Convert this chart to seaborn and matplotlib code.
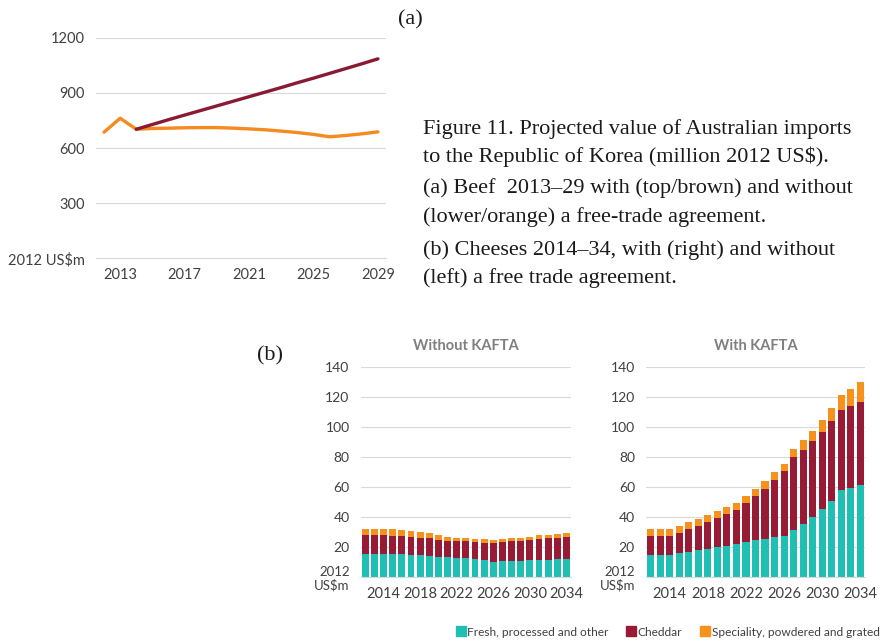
import numpy as np
import pandas as pd
import matplotlib
matplotlib.use("Agg")
import matplotlib.pyplot as plt
import seaborn as sns

# beef (a): million 2012 US$
beef_years = list(range(2012, 2030))
beef_without = [686, 762, 702, 706, 708, 710, 711, 711, 708, 704, 699, 692,
                684, 674, 661, 668, 677, 688]
beef_with_years = list(range(2014, 2030))
beef_with = [702, 728, 754, 779, 804, 829, 854, 879, 904, 929, 955, 980,
             1006, 1032, 1058, 1085]

# cheeses (b): cumulative tops
cheese_years = list(range(2012, 2035))
no_teal = [15.6, 15.6, 15.6, 15.3, 15.3, 15.1, 14.7, 14.4, 13.8, 13.3, 13.1, 12.7,
           12.0, 11.6, 10.4, 10.7, 11.1, 11.1, 11.3, 11.6, 11.8, 12.0, 12.4]
no_ched = [27.8, 27.8, 27.8, 27.3, 27.3, 26.9, 26.2, 26.0, 25.1, 24.4, 24.2, 23.8,
           23.3, 23.1, 22.7, 23.3, 23.8, 24.2, 24.9, 25.3, 26.0, 26.4, 27.1]
no_total = [32.2, 32.2, 32.2, 31.8, 31.3, 31.1, 30.0, 29.3, 28.2, 27.1, 26.4, 26.0,
            25.6, 25.3, 24.7, 25.3, 25.8, 26.4, 27.1, 27.8, 28.2, 28.7, 29.6]
fta_teal = [14.8, 14.8, 14.8, 16.0, 17.1, 18.2, 19.1, 20.0, 20.9, 22.0, 23.5, 24.6,
            25.6, 26.6, 27.6, 31.2, 35.6, 40.0, 45.3, 50.9, 58.0, 59.3, 61.1]
fta_ched = [27.3, 27.3, 27.3, 29.5, 31.8, 34.2, 36.9, 39.5, 42.2, 44.6, 49.1, 53.8,
            59.0, 64.8, 70.4, 79.8, 84.9, 90.5, 96.8, 103.8, 111.5, 114.0, 116.8]
fta_total = [31.8, 31.8, 31.8, 34.0, 36.6, 38.9, 41.5, 43.9, 46.7, 49.5, 54.2, 58.9,
             64.2, 69.8, 75.4, 85.2, 91.0, 97.4, 104.5, 112.3, 121.2, 125.0, 129.5]

series_names = ["Fresh, processed and other", "Cheddar", "Speciality, powdered and grated"]

caption = [
    "Figure 11. Projected value of Australian imports",
    "to the Republic of Korea (million 2012 US$).",
    "(a) Beef  2013\u201329 with (top/brown) and without",
    "(lower/orange) a free-trade agreement.",
    "(b) Cheeses 2014\u201334, with (right) and without",
    "(left) a free trade agreement.",
]

TEAL = "#1FBFB3"
MAROON = "#981B35"
ORANGE = "#F7911E"
BROWN = "#8A1A33"
LINE_OR = "#F58A1F"
GRID = "#D9D9D9"
TXT = "#404040"

sns.set_style("white")
plt.rcParams["font.family"] = ["Lato", "DejaVu Sans"]

W, H = 880, 644
fig = plt.figure(figsize=(W / 100, H / 100), dpi=100)


def px_axes(x0, x1, ytop, ybot):
    return fig.add_axes([x0 / W, 1 - ybot / H, (x1 - x0) / W, (ybot - ytop) / H])


def style_axis(ax):
    for s in ["top", "right", "left"]:
        ax.spines[s].set_visible(False)
    ax.spines["bottom"].set_color(GRID)
    ax.spines["bottom"].set_linewidth(0.8)
    ax.yaxis.grid(True, color=GRID, linewidth=0.8)
    ax.set_axisbelow(True)
    ax.tick_params(axis="y", length=0, labelsize=10.5, labelcolor=TXT, pad=8)
    ax.tick_params(axis="x", which="major", length=0, labelsize=10.5,
                   labelcolor=TXT, pad=7)
    ax.tick_params(axis="x", which="minor", length=4, color=GRID, width=0.8)
    ax.set_xlabel("")
    ax.set_ylabel("")


# ---- (a) beef line chart ----
ax1 = px_axes(96, 386, 37.7, 258.3)
df_no = pd.DataFrame({"year": beef_years, "value": beef_without})
df_fta = pd.DataFrame({"year": beef_with_years, "value": beef_with})
sns.lineplot(data=df_no, x="year", y="value", color=LINE_OR, linewidth=2.4, ax=ax1)
sns.lineplot(data=df_fta, x="year", y="value", color=BROWN, linewidth=2.4, ax=ax1)
ax1.set_xlim(2011.5, 2029.5)
ax1.set_ylim(0, 1200)
ax1.set_yticks([0, 300, 600, 900, 1200])
ax1.set_yticklabels(["2012 US$m", "300", "600", "900", "1200"])
ax1.set_xticks([2013, 2017, 2021, 2025, 2029])
ax1.set_xticklabels(["2013", "2017", "2021", "2025", "2029"])
ax1.set_xticks(np.arange(2011.5, 2030, 1), minor=True)
style_axis(ax1)
ax1.yaxis.get_gridlines()[0].set_visible(False)

# ---- (b) cheese stacked bars ----
def cheese_panel(ax, teal, ched, total, title):
    d = pd.DataFrame({"year": [str(y) for y in cheese_years],
                      "teal": teal, "ched": ched, "total": total})
    kw = dict(x="year", linewidth=0, width=0.74, ax=ax, saturation=1)
    sns.barplot(data=d, y="total", color=ORANGE, **kw)
    sns.barplot(data=d, y="ched", color=MAROON, **kw)
    sns.barplot(data=d, y="teal", color=TEAL, **kw)
    ax.set_xlim(-0.5, len(cheese_years) - 0.5)
    ax.set_ylim(0, 140)
    ax.set_yticks(range(0, 141, 20))
    ax.set_yticklabels(["2012\nUS$m"] + [str(v) for v in range(20, 141, 20)])
    idx = [i for i, y in enumerate(cheese_years) if (y - 2014) % 4 == 0]
    ax.set_xticks(idx)
    ax.set_xticklabels([str(cheese_years[i]) for i in idx])
    ax.set_xticks(np.arange(-0.5, len(cheese_years), 1), minor=True)
    style_axis(ax)
    ax.tick_params(axis="y", labelsize=10)
    ax.yaxis.get_gridlines()[0].set_visible(False)
    lbl = ax.get_yticklabels()[0]
    lbl.set_linespacing(1.1)
    lbl.set_fontsize(9.5)
    ax.set_title(title, fontsize=10.5, fontweight="bold", color="#7F7F7F", pad=12)


ax2 = px_axes(360.7, 571, 366.7, 577.3)
cheese_panel(ax2, no_teal, no_ched, no_total, "Without KAFTA")
ax3 = px_axes(646, 865, 366.7, 577.3)
cheese_panel(ax3, fta_teal, fta_ched, fta_total, "With KAFTA")

# legend
handles = [plt.Line2D([], [], marker="s", linestyle="", markersize=7, color=c)
           for c in [TEAL, MAROON, ORANGE]]
fig.legend(handles, series_names, loc="center", bbox_to_anchor=(667 / W, 1 - 632 / H),
           ncol=3, frameon=False, fontsize=8.6, handletextpad=0.05,
           handlelength=1.0, columnspacing=1.4, labelcolor=TXT)

# caption and panel labels
serif = ["Liberation Serif", "DejaVu Serif"]
cap_y = [129, 157, 188, 217, 250, 278]
for line, y in zip(caption, cap_y):
    fig.text(423 / W, 1 - y / H, line, family=serif, fontsize=16, color="#1a1a1a",
             ha="left", va="center")
fig.text(398 / W, 1 - 20 / H, "(a)", family=serif, fontsize=16, color="#1a1a1a",
         ha="left", va="center")
fig.text(257 / W, 1 - 356 / H, "(b)", family=serif, fontsize=16, color="#1a1a1a",
         ha="left", va="center")

fig.savefig("out.png", dpi=100)
